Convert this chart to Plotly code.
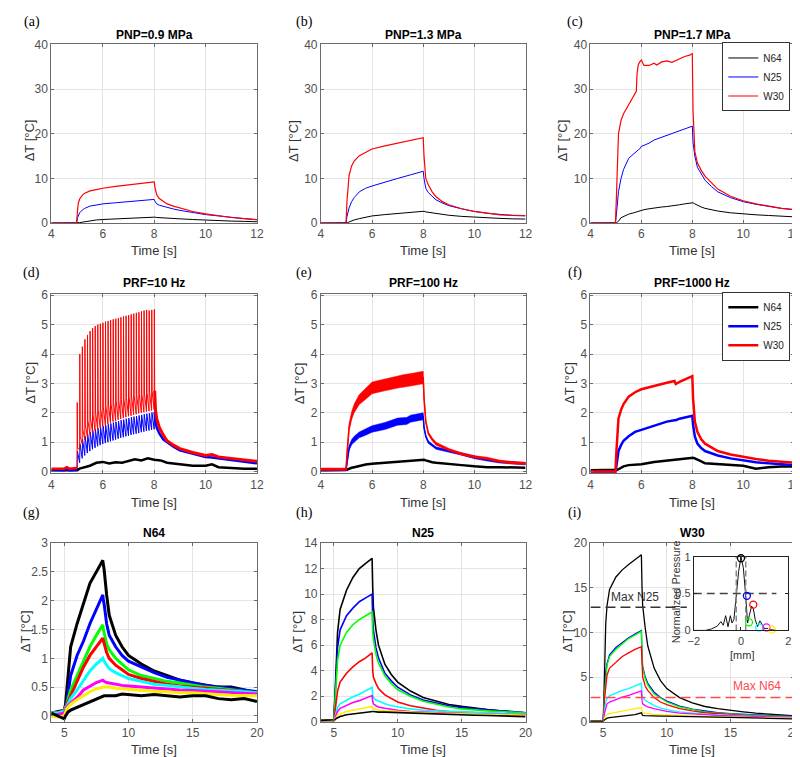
import plotly.graph_objects as go

# ---------------- data ----------------
# Row 1 : PNP panels
T1 = [4.0, 4.98, 5.02, 5.05, 5.1, 5.2, 5.3, 5.5, 5.75, 6.0, 6.5, 7.0, 7.5, 8.0, 8.03, 8.1, 8.2, 8.35, 8.5, 8.75, 9.0, 9.5, 10.0, 10.5, 11.0, 11.5, 12.0]
A_N64 = [0, 0, 0.02, 0.05, 0.1, 0.2, 0.3, 0.55, 0.7, 0.8, 0.95, 1.1, 1.22, 1.35, 1.33, 1.25, 1.2, 1.15, 1.1, 1.02, 0.95, 0.8, 0.65, 0.55, 0.45, 0.38, 0.3]
A_N25 = [0, 0, 1.2, 1.8, 2.3, 2.9, 3.3, 3.8, 4.1, 4.3, 4.55, 4.8, 5.05, 5.3, 4.9, 4.3, 4.0, 3.75, 3.5, 3.15, 2.85, 2.35, 1.9, 1.6, 1.25, 1.0, 0.75]
A_W30 = [0, 0, 3.0, 4.5, 5.4, 6.2, 6.7, 7.2, 7.5, 7.8, 8.2, 8.5, 8.85, 9.2, 8.0, 6.3, 5.5, 4.8, 4.3, 3.8, 3.4, 2.6, 2.05, 1.6, 1.25, 1.0, 0.75]
B_N64 = [0, 0, 0.05, 0.1, 0.25, 0.5, 0.7, 1.0, 1.35, 1.6, 1.9, 2.15, 2.4, 2.7, 2.65, 2.5, 2.4, 2.3, 2.15, 1.95, 1.75, 1.5, 1.3, 1.15, 1.05, 0.95, 0.9]
B_N25 = [0, 0, 1.5, 2.5, 3.4, 4.8, 5.7, 7.0, 7.8, 8.3, 9.2, 10.0, 10.8, 11.6, 10.0, 7.8, 6.8, 5.9, 5.2, 4.5, 3.9, 3.2, 2.6, 2.2, 1.9, 1.7, 1.6]
B_W30 = [0, 0, 5.0, 8.0, 10.7, 12.8, 13.9, 15.1, 15.9, 16.6, 17.3, 17.9, 18.5, 19.1, 15.0, 10.0, 8.5, 7.0, 5.9, 4.8, 4.1, 3.2, 2.6, 2.2, 1.85, 1.75, 1.7]
T_C = [4.0, 4.98, 5.02, 5.05, 5.1, 5.2, 5.3, 5.5, 5.7, 5.8, 5.83, 5.88, 5.95, 6.0, 6.1, 6.3, 6.5, 6.6, 6.8, 7.0, 7.2, 7.5, 7.7, 7.9, 8.0, 8.03, 8.1, 8.2, 8.35, 8.5, 8.75, 9.0, 9.5, 10.0, 10.5, 11.0, 11.5, 12.0]
C_W30 = [0, 0, 6, 12, 20, 23, 24.5, 26.5, 28.5, 29.5, 33.5, 35.5, 36.2, 36.5, 35.3, 35.3, 35.8, 35.4, 36.1, 36.3, 36.0, 36.8, 37.3, 37.6, 38.0, 25.0, 16.0, 13.5, 11.8, 10.5, 9.0, 7.6, 6.0, 5.0, 4.3, 3.8, 3.3, 3.0]
C_N25 = [0, 0, 2, 4, 7, 10, 12, 14.5, 15.6, 16.1, 16.2, 16.4, 16.7, 17.2, 17.4, 17.9, 18.6, 18.8, 19.2, 19.7, 20.1, 20.6, 21.0, 21.4, 21.7, 18.0, 15.0, 12.5, 11.0, 9.6, 8.2, 7.0, 5.7, 4.8, 4.2, 3.7, 3.3, 3.0]
C_N64 = [0, 0, 0.1, 0.2, 0.4, 1.2, 1.5, 2.0, 2.3, 2.5, 2.55, 2.6, 2.8, 2.9, 3.0, 3.2, 3.4, 3.45, 3.6, 3.7, 3.8, 4.1, 4.3, 4.5, 4.6, 4.55, 4.3, 4.0, 3.6, 3.3, 3.0, 2.7, 2.3, 2.0, 1.85, 1.7, 1.55, 1.4]

# Row 2 : PRF panels
D_PULSE_T = [5.0, 5.1, 5.2, 5.3, 5.4, 5.5, 5.6, 5.7, 5.8, 5.9, 6.0, 6.1, 6.2, 6.3, 6.4, 6.5, 6.6, 6.7, 6.8, 6.9, 7.0, 7.1, 7.2, 7.3, 7.4, 7.5, 7.6, 7.7, 7.8, 7.9, 8.0]
D_W30_PEAK = [2.35, 4.0, 4.25, 4.5, 4.65, 4.78, 4.88, 4.95, 5.0, 5.03, 5.06, 5.1, 5.12, 5.15, 5.18, 5.2, 5.22, 5.25, 5.28, 5.3, 5.32, 5.35, 5.37, 5.4, 5.42, 5.45, 5.48, 5.5, 5.48, 5.5, 5.52]
D_W30_POST = [0.8, 1.2, 1.45, 1.6, 1.75, 1.85, 1.95, 2.02, 2.1, 2.15, 2.2, 2.25, 2.3, 2.33, 2.37, 2.4, 2.43, 2.46, 2.49, 2.52, 2.55, 2.57, 2.59, 2.61, 2.63, 2.65, 2.67, 2.69, 2.7, 2.72, 2.75]
D_W30_TROUGH = [0.12, 0.75, 0.95, 1.08, 1.18, 1.26, 1.33, 1.39, 1.44, 1.49, 1.54, 1.58, 1.62, 1.66, 1.7, 1.73, 1.76, 1.79, 1.82, 1.85, 1.88, 1.9, 1.93, 1.95, 1.98, 2.0, 2.02, 2.04, 2.06, 2.08, 2.1]
D_N25_PEAK = [0.7, 0.95, 1.1, 1.2, 1.28, 1.34, 1.4, 1.44, 1.48, 1.52, 1.55, 1.58, 1.61, 1.64, 1.67, 1.7, 1.72, 1.75, 1.77, 1.8, 1.82, 1.85, 1.87, 1.89, 1.91, 1.93, 1.95, 1.97, 1.99, 2.01, 2.03]
D_N25_TROUGH = [0.06, 0.3, 0.45, 0.55, 0.63, 0.7, 0.76, 0.81, 0.86, 0.9, 0.94, 0.97, 1.0, 1.03, 1.06, 1.09, 1.12, 1.15, 1.17, 1.2, 1.22, 1.25, 1.27, 1.29, 1.31, 1.34, 1.36, 1.38, 1.4, 1.42, 1.44]
D_PRE_T = [4.0, 4.5, 4.6, 4.7, 5.0]
D_PRE_W30 = [0.1, 0.1, 0.15, 0.1, 0.12]
D_PRE_N25 = [0.06, 0.05, 0.1, 0.05, 0.06]
D_POST_T = [8.02, 8.05, 8.1, 8.2, 8.35, 8.5, 8.75, 9.0, 9.5, 10.0, 10.25, 10.5, 11.0, 11.5, 12.0]
D_POST_W30 = [2.75, 2.1, 1.8, 1.5, 1.25, 1.05, 0.9, 0.78, 0.65, 0.55, 0.58, 0.5, 0.45, 0.4, 0.35]
D_POST_N25 = [2.03, 1.7, 1.5, 1.3, 1.1, 1.0, 0.85, 0.72, 0.6, 0.5, 0.48, 0.45, 0.4, 0.32, 0.28]
D_T_N64 = [4.0, 4.5, 5.0, 5.1, 5.3, 5.5, 5.75, 6.0, 6.25, 6.5, 6.75, 7.0, 7.25, 7.5, 7.75, 8.0, 8.25, 8.5, 9.0, 9.5, 10.0, 10.25, 10.5, 11.0, 11.5, 12.0]
D_N64 = [0.05, 0.05, 0.05, 0.1, 0.15, 0.2, 0.3, 0.33, 0.28, 0.32, 0.3, 0.35, 0.42, 0.38, 0.45, 0.4, 0.38, 0.3, 0.25, 0.2, 0.2, 0.25, 0.15, 0.12, 0.1, 0.1]

T2 = [4.0, 4.5, 4.98, 5.02, 5.05, 5.1, 5.2, 5.3, 5.5, 5.75, 6.0, 6.5, 7.0, 7.3, 7.35, 7.5, 8.0, 8.03, 8.1, 8.2, 8.35, 8.5, 9.0, 9.5, 10.0, 10.5, 11.0, 11.5, 12.0]
E_W30 = [0.08, 0.08, 0.08, 0.6, 1.0, 1.5, 1.9, 2.15, 2.45, 2.65, 2.85, 2.95, 3.05, 3.1, 3.1, 3.12, 3.2, 2.5, 1.7, 1.3, 1.1, 0.95, 0.75, 0.6, 0.5, 0.45, 0.35, 0.3, 0.28]
E_W30_SPREAD = [0.04, 0.04, 0.04, 0.08, 0.1, 0.12, 0.14, 0.15, 0.17, 0.19, 0.2, 0.2, 0.21, 0.21, 0.21, 0.21, 0.21, 0.05, 0.05, 0.05, 0.05, 0.05, 0.04, 0.04, 0.04, 0.04, 0.04, 0.04, 0.04]
E_N25 = [0.05, 0.05, 0.05, 0.3, 0.5, 0.8, 1.0, 1.1, 1.25, 1.35, 1.45, 1.55, 1.7, 1.72, 1.72, 1.8, 1.88, 1.5, 1.2, 1.0, 0.9, 0.8, 0.7, 0.6, 0.48, 0.4, 0.33, 0.3, 0.27]
E_N25_SPREAD = [0.03, 0.03, 0.03, 0.05, 0.06, 0.08, 0.09, 0.1, 0.1, 0.11, 0.11, 0.12, 0.12, 0.12, 0.12, 0.12, 0.12, 0.04, 0.04, 0.04, 0.04, 0.04, 0.04, 0.04, 0.04, 0.04, 0.04, 0.04, 0.04]
E_N64 = [0.05, 0.05, 0.05, 0.06, 0.08, 0.1, 0.13, 0.15, 0.2, 0.24, 0.27, 0.3, 0.35, 0.36, 0.36, 0.37, 0.4, 0.4, 0.38, 0.35, 0.32, 0.3, 0.25, 0.22, 0.18, 0.15, 0.15, 0.15, 0.13]
F_W30 = [0.0, 0.0, 0.0, 0.7, 1.2, 1.8, 2.1, 2.3, 2.55, 2.7, 2.8, 2.92, 3.02, 3.08, 2.98, 3.05, 3.25, 2.5, 1.7, 1.35, 1.1, 0.95, 0.7, 0.58, 0.5, 0.43, 0.37, 0.33, 0.3]
F_N25 = [0.0, 0.0, 0.0, 0.2, 0.4, 0.7, 0.9, 1.05, 1.2, 1.35, 1.42, 1.55, 1.7, 1.75, 1.75, 1.8, 1.9, 1.6, 1.2, 0.95, 0.8, 0.7, 0.55, 0.45, 0.38, 0.32, 0.28, 0.25, 0.22]
F_N64 = [0.05, 0.05, 0.05, 0.05, 0.06, 0.08, 0.12, 0.18, 0.22, 0.24, 0.25, 0.33, 0.38, 0.4, 0.4, 0.42, 0.48, 0.47, 0.45, 0.4, 0.35, 0.28, 0.25, 0.22, 0.2, 0.1, 0.15, 0.17, 0.17]

# Row 3 : transducer panels, 8 lateral positions each
T3 = [4.0, 4.5, 5.0, 5.1, 5.2, 5.3, 5.5, 6.0, 6.5, 7.0, 7.5, 8.0, 8.05, 8.1, 8.3, 8.5, 9.0, 9.5, 10.0, 11.0, 12.0, 13.0, 14.0, 15.0, 16.0, 17.0, 18.0, 19.0, 20.0]
G_K1 = [0.05, 0.08, 0.1, 0.2, 0.4, 0.7, 1.2, 1.6, 1.95, 2.3, 2.5, 2.7, 2.62, 2.55, 2.1, 1.75, 1.4, 1.2, 1.05, 0.9, 0.78, 0.7, 0.62, 0.57, 0.53, 0.5, 0.5, 0.45, 0.4]
G_B = [0.05, 0.05, 0.1, 0.15, 0.25, 0.4, 0.7, 1.05, 1.3, 1.6, 1.85, 2.1, 2.0, 1.95, 1.6, 1.4, 1.2, 1.05, 0.95, 0.85, 0.75, 0.67, 0.62, 0.57, 0.53, 0.5, 0.47, 0.45, 0.42]
G_G = [0.05, 0.05, 0.1, 0.15, 0.2, 0.3, 0.45, 0.7, 0.95, 1.2, 1.4, 1.58, 1.5, 1.45, 1.25, 1.15, 1.0, 0.9, 0.8, 0.7, 0.65, 0.6, 0.57, 0.53, 0.5, 0.48, 0.45, 0.43, 0.4]
G_R = [0.05, 0.05, 0.1, 0.12, 0.2, 0.25, 0.35, 0.6, 0.85, 1.05, 1.2, 1.35, 1.3, 1.25, 1.1, 1.0, 0.88, 0.8, 0.72, 0.65, 0.6, 0.55, 0.52, 0.5, 0.47, 0.45, 0.43, 0.42, 0.4]
G_C = [0.05, 0.05, 0.08, 0.12, 0.18, 0.22, 0.3, 0.45, 0.62, 0.78, 0.9, 1.0, 0.97, 0.95, 0.88, 0.82, 0.75, 0.7, 0.65, 0.6, 0.55, 0.53, 0.5, 0.48, 0.46, 0.45, 0.43, 0.42, 0.4]
G_M = [0.0, 0.02, 0.05, 0.1, 0.15, 0.18, 0.22, 0.32, 0.45, 0.52, 0.58, 0.62, 0.61, 0.6, 0.58, 0.57, 0.55, 0.53, 0.52, 0.5, 0.48, 0.46, 0.45, 0.44, 0.43, 0.42, 0.4, 0.4, 0.38]
G_Y = [0.0, -0.02, 0.0, 0.08, 0.12, 0.15, 0.2, 0.28, 0.35, 0.42, 0.47, 0.5, 0.5, 0.5, 0.5, 0.5, 0.48, 0.47, 0.47, 0.45, 0.43, 0.42, 0.4, 0.4, 0.38, 0.37, 0.36, 0.36, 0.35]
G_K2 = [0.05, 0.0, -0.05, 0.0, 0.05, 0.07, 0.1, 0.15, 0.2, 0.25, 0.3, 0.35, 0.35, 0.35, 0.35, 0.35, 0.35, 0.38, 0.37, 0.35, 0.37, 0.35, 0.33, 0.35, 0.35, 0.3, 0.28, 0.3, 0.25]
H_K1 = [0.1, 0.1, 0.1, 2.0, 5.5, 7.0, 8.8, 10.3, 11.3, 12.0, 12.4, 12.8, 10.5, 9.0, 7.2, 6.0, 4.5, 3.7, 3.1, 2.4, 1.9, 1.6, 1.35, 1.2, 1.05, 0.95, 0.85, 0.8, 0.7]
H_B = [0.1, 0.1, 0.1, 1.8, 4.5, 5.8, 7.2, 8.3, 8.9, 9.4, 9.7, 10.0, 8.0, 7.2, 5.8, 5.0, 3.8, 3.2, 2.7, 2.1, 1.7, 1.45, 1.25, 1.1, 1.0, 0.9, 0.85, 0.8, 0.7]
H_G = [0.1, 0.1, 0.1, 1.5, 3.5, 4.8, 6.0, 7.0, 7.6, 8.0, 8.3, 8.6, 7.0, 6.5, 5.3, 4.6, 3.6, 3.0, 2.5, 2.0, 1.6, 1.35, 1.15, 1.0, 0.9, 0.85, 0.8, 0.75, 0.7]
H_R = [0.1, 0.1, 0.1, 0.8, 1.8, 2.4, 3.1, 3.8, 4.3, 4.7, 5.0, 5.4, 4.0, 3.5, 3.0, 2.6, 2.1, 1.8, 1.55, 1.25, 1.05, 0.9, 0.8, 0.75, 0.7, 0.65, 0.6, 0.6, 0.55]
H_C = [0.1, 0.1, 0.1, 0.4, 0.8, 1.1, 1.4, 1.7, 1.95, 2.15, 2.4, 2.7, 2.1, 1.9, 1.7, 1.6, 1.4, 1.25, 1.15, 1.0, 0.9, 0.85, 0.8, 0.75, 0.7, 0.65, 0.65, 0.6, 0.6]
H_M = [0.1, 0.1, 0.1, 0.3, 0.6, 0.8, 1.05, 1.3, 1.5, 1.65, 1.85, 2.05, 1.6, 1.4, 1.25, 1.15, 1.05, 0.95, 0.9, 0.8, 0.75, 0.7, 0.65, 0.62, 0.6, 0.58, 0.57, 0.56, 0.55]
H_Y = [0.1, 0.1, 0.1, 0.2, 0.4, 0.5, 0.6, 0.8, 0.9, 1.0, 1.1, 1.2, 1.05, 1.0, 0.95, 0.9, 0.85, 0.82, 0.8, 0.75, 0.7, 0.66, 0.63, 0.6, 0.58, 0.55, 0.53, 0.52, 0.5]
H_K2 = [0.1, 0.1, 0.1, 0.15, 0.25, 0.3, 0.4, 0.55, 0.62, 0.7, 0.78, 0.85, 0.8, 0.8, 0.77, 0.75, 0.75, 0.73, 0.72, 0.68, 0.62, 0.58, 0.55, 0.52, 0.5, 0.48, 0.45, 0.43, 0.4]
I_K1 = [0.05, 0.05, 0.05, 5.0, 11.0, 13.0, 14.8, 16.2, 17.0, 17.6, 18.2, 18.7, 15.0, 13.0, 10.5, 8.5, 6.0, 4.6, 3.7, 2.7, 2.1, 1.7, 1.45, 1.25, 1.1, 0.95, 0.85, 0.75, 0.65]
I_B = [0.05, 0.05, 0.05, 3.0, 5.5, 6.5, 7.5, 8.3, 8.9, 9.4, 9.8, 10.2, 7.5, 6.2, 5.0, 4.3, 3.3, 2.7, 2.3, 1.75, 1.4, 1.2, 1.0, 0.9, 0.8, 0.75, 0.7, 0.65, 0.6]
I_G = [0.05, 0.05, 0.05, 3.0, 5.3, 6.3, 7.3, 8.1, 8.7, 9.3, 9.7, 10.1, 7.3, 6.0, 4.8, 4.1, 3.1, 2.6, 2.2, 1.65, 1.35, 1.1, 0.95, 0.85, 0.75, 0.7, 0.65, 0.6, 0.55]
I_R = [0.05, 0.05, 0.05, 2.5, 4.3, 5.2, 6.0, 6.7, 7.3, 7.7, 8.1, 8.4, 5.8, 5.0, 4.0, 3.5, 2.7, 2.2, 1.9, 1.45, 1.2, 1.0, 0.9, 0.8, 0.72, 0.65, 0.6, 0.55, 0.5]
I_C = [0.05, 0.05, 0.05, 1.2, 2.2, 2.6, 2.9, 3.2, 3.5, 3.7, 4.0, 4.3, 3.2, 2.7, 2.4, 2.2, 1.8, 1.55, 1.35, 1.1, 0.95, 0.85, 0.75, 0.7, 0.65, 0.6, 0.55, 0.52, 0.5]
I_M = [0.05, 0.05, 0.05, 0.9, 1.6, 2.0, 2.2, 2.5, 2.75, 2.95, 3.2, 3.45, 2.4, 2.0, 1.8, 1.65, 1.45, 1.3, 1.15, 0.95, 0.85, 0.75, 0.7, 0.65, 0.6, 0.55, 0.52, 0.5, 0.48]
I_Y = [0.05, 0.05, 0.05, 0.4, 0.7, 0.8, 0.9, 1.05, 1.2, 1.3, 1.45, 1.55, 1.1, 1.0, 0.95, 0.9, 0.8, 0.78, 0.75, 0.65, 0.6, 0.57, 0.53, 0.5, 0.48, 0.45, 0.43, 0.42, 0.4]
I_K2 = [0.05, 0.05, 0.05, 0.2, 0.35, 0.4, 0.45, 0.55, 0.62, 0.7, 0.8, 1.0, 0.75, 0.7, 0.67, 0.65, 0.65, 0.63, 0.62, 0.58, 0.55, 0.5, 0.47, 0.45, 0.42, 0.4, 0.38, 0.35, 0.3]

# Inset : normalized beam profile and measurement positions
BEAM_X = [-2.0, -1.5, -1.25, -1.0, -0.85, -0.75, -0.65, -0.55, -0.45, -0.38, -0.3, -0.2, -0.1, 0.0, 0.1, 0.2, 0.28, 0.35, 0.45, 0.52, 0.6, 0.7, 0.8, 0.9, 1.0, 1.1, 1.25, 1.5]
BEAM_P = [0.0, 0.0, 0.02, 0.06, 0.12, 0.07, 0.2, 0.05, 0.2, 0.1, 0.15, 0.45, 0.8, 1.0, 0.85, 0.47, 0.1, 0.2, 0.33, 0.3, 0.15, 0.05, 0.13, 0.08, 0.02, 0.03, 0.01, 0.0]
FWHM_X = [-0.2, 0.2]
POS_X = [0.0, 0.25, 0.34, 0.52, 0.77, 1.08, 1.31, 1.56]
POS_P = [0.98, 0.47, 0.11, 0.35, 0.04, 0.04, 0.01, -0.01]

PANEL_TITLES = ["PNP=0.9 MPa", "PNP=1.3 MPa", "PNP=1.7 MPa",
                "PRF=10 Hz", "PRF=100 Hz", "PRF=1000 Hz", "N64", "N25", "W30"]
PANEL_LETTERS = ["(a)", "(b)", "(c)", "(d)", "(e)", "(f)", "(g)", "(h)", "(i)"]
SERIES_NAMES = ["N64", "N25", "W30"]

# ---------------- styling / layout ----------------
W, H = 800, 757
COLS = [(38, 247), (312, 520), (586, 793)]
ROWS = [(30, 212), (284, 467), (538, 720)]
SANS = "Liberation Sans, Arial, sans-serif"
SERIF = "Liberation Serif, Times New Roman, serif"
K, B, R, G, C, M, Y = "#000000", "#0000ff", "#ff0000", "#00ff00", "#00ffff", "#ff00ff", "#ffee00"
ROW3_COLORS = [K, B, G, R, C, M, Y, K]


def xd(a, b):
    return [a / W, b / W]


def yd(t, b):
    return [1 - b / H, 1 - t / H]


def ax_ref(k):
    return ("x" if k == 1 else f"x{k}"), ("y" if k == 1 else f"y{k}")


fig = go.Figure()


def line(k, x, y, color, width, name=None, legend=None, dash=None):
    xa, ya = ax_ref(k)
    fig.add_trace(go.Scatter(
        x=x, y=y, mode="lines", xaxis=xa, yaxis=ya,
        line=dict(color=color, width=width, dash=dash),
        name=name, showlegend=legend is not None,
        legend=legend if legend is not None else "legend",
        hoverinfo="skip"))


def band(k, x, center, spread, color):
    hi = [c + s for c, s in zip(center, spread)]
    lo = [c - s for c, s in zip(center, spread)]
    xa, ya = ax_ref(k)
    fig.add_trace(go.Scatter(
        x=list(x) + list(x)[::-1], y=hi + lo[::-1], mode="lines",
        fill="toself", fillcolor=color, line=dict(width=0.5, color=color),
        xaxis=xa, yaxis=ya, showlegend=False, hoverinfo="skip"))


# Row 1
for k, (n64, n25, w30, t) in enumerate([(A_N64, A_N25, A_W30, T1),
                                        (B_N64, B_N25, B_W30, T1),
                                        (C_N64, C_N25, C_W30, T_C)], start=1):
    leg = "legend" if k == 3 else None
    line(k, t, n64, K, 1, SERIES_NAMES[0], leg)
    line(k, t, n25, B, 1, SERIES_NAMES[1], leg)
    line(k, t, w30, R, 1.2, SERIES_NAMES[2], leg)

# Row 2 (d): 10 Hz pulsed heating
line(4, D_T_N64, D_N64, K, 2.5)
rx, ry, bx, by = [], [], [], []
for i, t in enumerate(D_PULSE_T):
    bx += [t, t + 0.012]
    by += [D_N25_TROUGH[i], D_N25_PEAK[i]]
    rx += [t, t + 0.006, t + 0.02]
    ry += [D_W30_TROUGH[i], D_W30_PEAK[i], D_W30_POST[i]]
line(4, D_PRE_T, D_PRE_N25, B, 2.5)
line(4, bx, by, B, 1)
line(4, D_POST_T, D_POST_N25, B, 2.5)
line(4, D_PRE_T, D_PRE_W30, R, 2.5)
line(4, rx, ry, R, 1)
line(4, D_POST_T, D_POST_W30, R, 3)

# Row 2 (e)
line(5, T2, E_N64, K, 2.5)
band(5, T2, E_N25, E_N25_SPREAD, B)
line(5, T2, E_N25, B, 1.5)
band(5, T2, E_W30, E_W30_SPREAD, R)
line(5, T2, E_W30, R, 1.5)

# Row 2 (f)
line(6, T2, F_N64, K, 2.5, SERIES_NAMES[0], "legend2")
line(6, T2, F_N25, B, 2.5, SERIES_NAMES[1], "legend2")
line(6, T2, F_W30, R, 2.5, SERIES_NAMES[2], "legend2")

# Row 3
for k, series, w in [(7, [G_K1, G_B, G_G, G_R, G_C, G_M, G_Y, G_K2], 3),
                     (8, [H_K1, H_B, H_G, H_R, H_C, H_M, H_Y, H_K2], 1.6),
                     (9, [I_K1, I_B, I_G, I_R, I_C, I_M, I_Y, I_K2], 1.3)]:
    for s, col in zip(series, ROW3_COLORS):
        line(k, T3, s, col, w)

# (i) reference levels: maxima of N25 and N64 at the focus
line(9, [T3[0], T3[-1]], [max(H_K1), max(H_K1)], "#333333", 1.5, dash="10px,5px")
line(9, [T3[0], T3[-1]], [max(G_K1), max(G_K1)], "#ff4a4a", 1.5, dash="10px,5px")

# white cover box behind inset (dummy subplot 10)
fig.add_trace(go.Scatter(x=[None], y=[None], xaxis="x10", yaxis="y10", showlegend=False))

# inset (subplot 11)
fig.add_trace(go.Scatter(x=BEAM_X, y=BEAM_P, mode="lines", xaxis="x11", yaxis="y11",
                         line=dict(color="#111111", width=1), showlegend=False, hoverinfo="skip"))
for v in FWHM_X:
    fig.add_trace(go.Scatter(x=[v, v], y=[0, max(BEAM_P)], mode="lines", xaxis="x11", yaxis="y11",
                             line=dict(color="#888888", width=1.5, dash="6px,3px"),
                             showlegend=False, hoverinfo="skip"))
fig.add_trace(go.Scatter(x=[BEAM_X[0], BEAM_X[-1]], y=[0.5 * max(BEAM_P)] * 2, mode="lines",
                         xaxis="x11", yaxis="y11",
                         line=dict(color="#444444", width=1.5, dash="8px,5px"),
                         showlegend=False, hoverinfo="skip"))
fig.add_trace(go.Scatter(x=POS_X, y=POS_P, mode="markers", xaxis="x11", yaxis="y11",
                         marker=dict(symbol="circle-open", size=7, color=ROW3_COLORS,
                                     line=dict(width=1.3, color=ROW3_COLORS)),
                         cliponaxis=False, showlegend=False, hoverinfo="skip"))

axis_common = dict(showline=True, linecolor="#6b6b6b", linewidth=1, mirror="ticks",
                   ticks="inside", ticklen=3, tickcolor="#6b6b6b",
                   showgrid=True, gridcolor="#e4e4e4", gridwidth=1, zeroline=False,
                   tickfont=dict(family=SANS, size=12, color="#505050"))

layout = dict(width=W, height=H, margin=dict(l=0, r=0, t=0, b=0),
              paper_bgcolor="white", plot_bgcolor="white",
              font=dict(family=SANS, color="#333333"))

yranges = [[0, 40], [0, 40], [0, 40],
           [-0.06, 6.05], [-0.06, 6.05], [-0.06, 6.05],
           [-0.1, 3], [0, 14], [0, 20]]
ydticks = [10, 10, 10, 1, 1, 1, 0.5, 2, 5]
for k in range(1, 10):
    r, c = (k - 1) // 3, (k - 1) % 3
    xa, ya = ax_ref(k)
    xkey = "xaxis" if k == 1 else f"xaxis{k}"
    ykey = "yaxis" if k == 1 else f"yaxis{k}"
    if r < 2:
        xr, xt = [4, 12], [4, 6, 8, 10, 12]
    else:
        xr, xt = [4, 20], [5, 10, 15, 20]
    layout[xkey] = dict(axis_common, domain=xd(*COLS[c]), range=xr, tickvals=xt, anchor=ya)
    layout[ykey] = dict(axis_common, domain=yd(*ROWS[r]), range=yranges[k - 1],
                        dtick=ydticks[k - 1], tick0=0, anchor=xa)

# dummy cover subplot
blank = dict(showgrid=False, showline=False, zeroline=False, showticklabels=False, ticks="")
layout["xaxis10"] = dict(blank, domain=xd(684, 791), range=[0, 1], anchor="y10")
layout["yaxis10"] = dict(blank, domain=yd(545, 655), range=[0, 1], anchor="x10")
# inset
inset_axis = dict(axis_common, showgrid=False, linecolor="#222222", tickcolor="#222222",
                  tickfont=dict(family=SANS, size=11, color="#444444"))
layout["xaxis11"] = dict(inset_axis, domain=xd(691, 787), range=[-2, 2], tickvals=[-2, 0, 2], anchor="y11")
layout["yaxis11"] = dict(inset_axis, domain=yd(552, 627), range=[0, 1], tickvals=[0, 0.5, 1], anchor="x11")

leg_common = dict(xanchor="left", yanchor="top", bgcolor="white", bordercolor="#333333",
                  borderwidth=1, font=dict(family=SANS, size=10, color="#222222"),
                  tracegroupgap=0, itemwidth=30)
layout["legend"] = dict(leg_common, x=720 / W, y=1 - 28 / H)
layout["legend2"] = dict(leg_common, x=720 / W, y=1 - 282 / H)

ann = []


def txt(x, y, s, size=12, color="#333333", family=SANS, angle=0, bold=False):
    ann.append(dict(x=x / W, y=1 - y / H, xref="paper", yref="paper", text=f"<b>{s}</b>" if bold else s,
                    showarrow=False, xanchor="center", yanchor="middle", textangle=angle,
                    font=dict(family=family, size=size, color=color)))


TITLE_Y = [20, 273, 528]
LETTER_Y = [7, 263, 507]
LETTER_X = [18, 295, 570]
XLAB_Y = [240, 497, 748]
YLAB_X = [[16, 284, 558], [16, 290, 564], [12, 288, 563]]
YLAB_Y = [128, 375, 628]
for k in range(9):
    r, c = k // 3, k % 3
    cx = (COLS[c][0] + COLS[c][1]) / 2
    txt(cx, TITLE_Y[r], PANEL_TITLES[k], size=12, color="#000000", bold=True)
    txt(LETTER_X[c], LETTER_Y[r], PANEL_LETTERS[k], size=14, color="#000000", family=SERIF)
    txt(cx, XLAB_Y[r], "Time [s]", size=13)
    txt(YLAB_X[r][c], YLAB_Y[r], "ΔT [°C]", size=13, angle=-90)

# inset labels
txt(740, 652, "[mm]", size=11)
txt(673, 588, "Normalized Pressure", size=11, angle=-90)
layout["annotations"] = ann
fig.update_layout(**layout)

fig.add_annotation(x=7.5, y=14.0, xref="x9", yref="y9", text="Max N25", showarrow=False,
                   font=dict(family=SANS, size=12, color="#333333"))
fig.add_annotation(x=17.1, y=4.0, xref="x9", yref="y9", text="Max N64", showarrow=False,
                   font=dict(family=SANS, size=12, color="#ff4a4a"))

fig.write_html("out.html")
